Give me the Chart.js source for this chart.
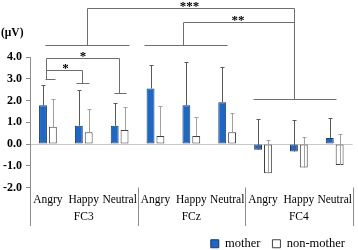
<!DOCTYPE html>
<html>
<head>
<meta charset="utf-8">
<script src="https://cdn.jsdelivr.net/npm/chart.js@4"></script>
<style>
  html, body { margin: 0; padding: 0; background: #fff; }
  #wrap { width: 358px; height: 250px; }
</style>
</head>
<body>
<div id="wrap"><canvas id="erpChart" width="358" height="250"></canvas></div>
<script>
// Conditions and electrode groups
const categories = ['Angry','Happy','Neutral','Angry','Happy','Neutral','Angry','Happy','Neutral'];
const electrodes = ['FC3','FCz','FC4'];
const seriesNames = ['mother','non-mother'];

// Mean amplitudes (µV) and upper error bars
const motherMean    = [1.78, 0.84, 0.84, 2.55, 1.78, 1.92, -0.26, -0.35, 0.28];
const motherErr     = [0.93, 1.64, 1.05, 1.10, 1.97, 1.60, 1.42, 1.45, 0.90];
const nonMotherMean = [0.79, 0.54, 0.64, 0.37, 0.37, 0.54, -1.35, -1.08, -0.97];
const nonMotherErr  = [1.30, 1.09, 1.07, 1.37, 0.86, 0.87, 1.55, 1.41, 1.41];

const yTicks = [-2, -1, 0, 1, 2, 3, 4];

const serif = '"Liberation Serif", "Times New Roman", serif';

// significance brackets, in category index / µV units
const bracketPaths = [
  [[-0.09, 4.57], [2.25, 4.57]],
  [[2.69, 4.57], [5.0, 4.57]],
  [[5.72, 2.07], [8.05, 2.07]],
  [[1.1, 4.57], [1.1, 6.23], [6.87, 6.23], [6.87, 2.07]],
  [[3.78, 4.57], [3.78, 5.6], [6.87, 5.6]],
  [[-0.06, 3.0], [-0.06, 3.97], [1.98, 3.97], [1.98, 2.36]],
  [[-0.09, 3.0], [0.19, 3.0]],
  [[1.83, 2.36], [2.17, 2.36]],
  [[-0.06, 3.41], [0.96, 3.41], [0.96, 2.79]],
  [[0.77, 2.79], [1.15, 2.79]]
];
const stars = [
  { text: '***', at: [3.95, 6.23] },
  { text: '**',  at: [5.3, 5.6] },
  { text: '*',   at: [0.98, 3.97] },
  { text: '*',   at: [0.49, 3.41] }
];

const extras = {
  id: 'extras',
  afterDatasetsDraw(chart) {
    const { ctx, scales: { y } } = chart;
    ctx.save();
    chart.data.datasets.forEach((ds, di) => {
      const meta = chart.getDatasetMeta(di);
      ctx.strokeStyle = di === 0 ? '#595959' : '#a0a0a0';
      ctx.lineWidth = 1;
      meta.data.forEach((bar, i) => {
        const x = Math.round(bar.x) + 0.5;
        const y0 = y.getPixelForValue(ds.data[i]);
        const y1 = Math.round(y.getPixelForValue(ds.data[i] + ds.err[i])) + 0.5;
        ctx.beginPath();
        ctx.moveTo(x, y0);
        ctx.lineTo(x, y1);
        ctx.moveTo(x - 2, y1);
        ctx.lineTo(x + 2, y1);
        ctx.stroke();
      });
    });
    ctx.restore();
  },
  afterDraw(chart) {
    const { ctx, chartArea, scales: { x, y } } = chart;
    const x0 = x.getPixelForValue(0), step = x.getPixelForValue(1) - x0;
    const px = c => x0 + c * step;
    const py = v => y.getPixelForValue(v);
    ctx.save();

    // group separators below the axis
    ctx.strokeStyle = '#8c8c8c';
    ctx.lineWidth = 1;
    [-0.5, 2.5, 5.5, 8.5].forEach(c => {
      const xx = Math.round(px(c)) + 0.5;
      ctx.beginPath();
      ctx.moveTo(xx, chartArea.bottom);
      ctx.lineTo(xx, 226);
      ctx.stroke();
    });

    // electrode labels
    ctx.fillStyle = '#000';
    ctx.font = '11.5px ' + serif;
    ctx.textAlign = 'center';
    ctx.textBaseline = 'middle';
    electrodes.forEach((e, g) => ctx.fillText(e, px(g * 3 + 1), 217));

    // unit label
    ctx.font = 'bold 11.5px ' + serif;
    ctx.textAlign = 'left';
    ctx.fillText('(\u03bcV)', 1, 33);

    // brackets
    ctx.strokeStyle = '#6e6e6e';
    bracketPaths.forEach(path => {
      ctx.beginPath();
      path.forEach(([c, v], k) => {
        const xx = Math.round(px(c)) + 0.5, yy = Math.round(py(v)) + 0.5;
        k ? ctx.lineTo(xx, yy) : ctx.moveTo(xx, yy);
      });
      ctx.stroke();
    });
    ctx.font = 'bold 13px ' + serif;
    ctx.textAlign = 'center';
    ctx.textBaseline = 'alphabetic';
    stars.forEach(s => ctx.fillText(s.text, px(s.at[0]), py(s.at[1]) + 2));
    ctx.restore();
  }
};

new Chart(document.getElementById('erpChart').getContext('2d'), {
  type: 'bar',
  data: {
    labels: categories,
    datasets: [
      { label: seriesNames[0], data: motherMean, err: motherErr, backgroundColor: '#1c68c4', borderColor: '#1f3a66', borderWidth: 1, borderSkipped: false },
      { label: seriesNames[1], data: nonMotherMean, err: nonMotherErr, backgroundColor: '#ffffff', borderColor: '#404040', borderWidth: 1, borderSkipped: false }
    ]
  },
  options: {
    responsive: false,
    devicePixelRatio: 1,
    animation: false,
    categoryPercentage: 0.55,
    barPercentage: 0.8,
    layout: { padding: { top: 57, right: 1, left: 0, bottom: -10 } },
    plugins: {
      tooltip: { enabled: false },
      legend: {
        position: 'bottom',
        align: 'end',
        labels: { boxWidth: 8, boxHeight: 8, padding: 12, color: '#000', font: { family: serif, size: 12.5 } }
      }
    },
    scales: {
      x: {
        grid: { display: false, drawTicks: false },
        border: { display: false },
        ticks: { color: '#000', padding: 6, autoSkip: false, maxRotation: 0, font: { family: serif, size: 11.5 } },
        afterFit: s => { s.height = 38; }
      },
      y: {
        min: -2, max: 4,
        afterBuildTicks: s => { s.ticks = yTicks.map(v => ({ value: v })); },
        border: { color: '#8c8c8c' },
        grid: { color: c => c.tick && c.tick.value === 0 ? '#c8c8c8' : 'rgba(0,0,0,0)', tickColor: '#8c8c8c', tickLength: 4 },
        ticks: { color: '#000', padding: 4, font: { family: serif, size: 12, weight: 'bold' }, callback: v => v.toFixed(1) },
        afterFit: s => { s.width = 30; }
      }
    }
  },
  plugins: [extras]
});
</script>
</body>
</html>
